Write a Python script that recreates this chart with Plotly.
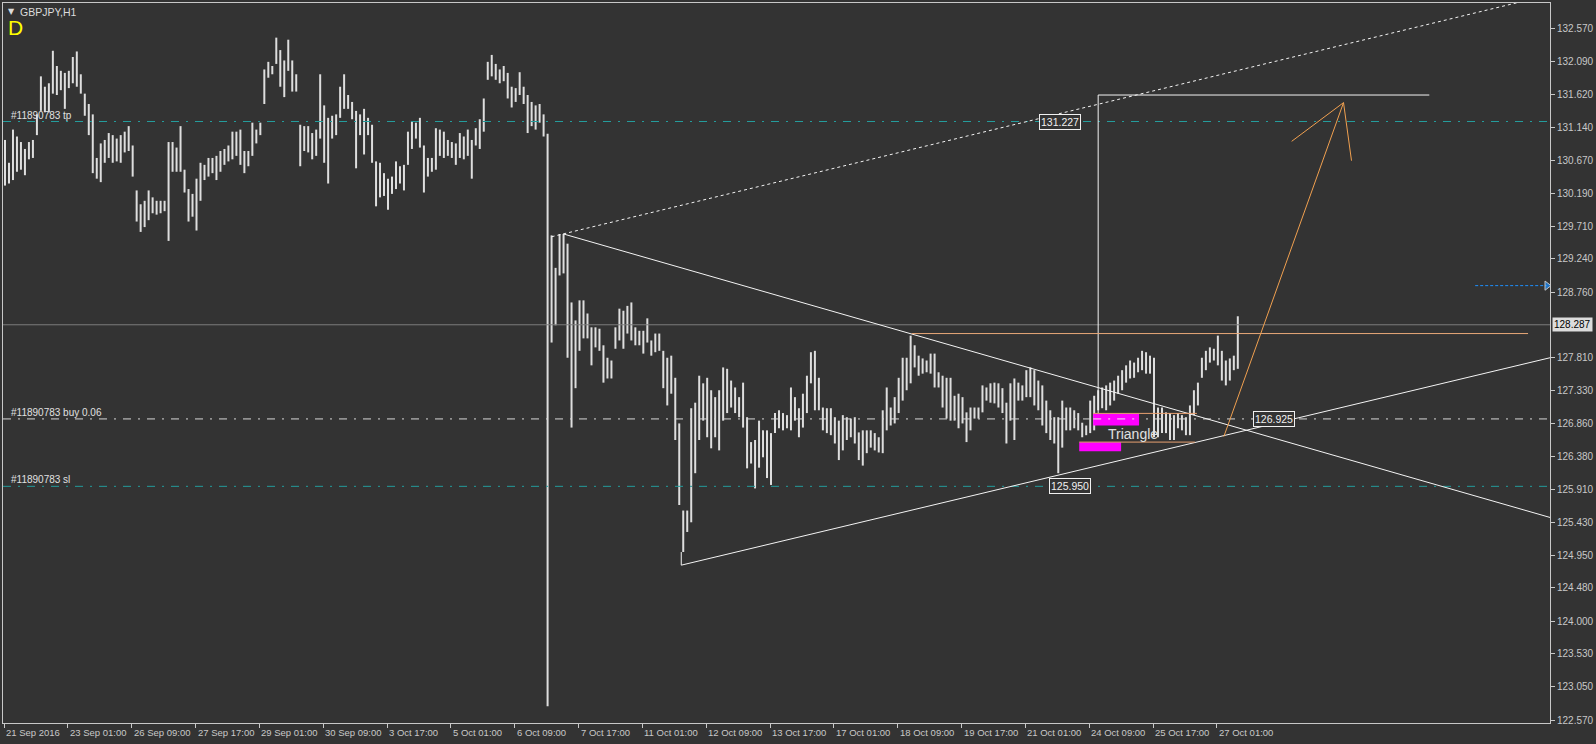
import plotly.graph_objects as go

BG = "#333333"
FG = "#c8c8c8"
FONT = "Liberation Sans"

# ---- bar data (2-hour groups of the H1 chart: high / low) ----
highs = [
    130.96, 130.63, 131.11, 131.01, 130.93, 130.83, 130.93, 130.96, 131.33, 131.88,
    131.73, 131.78, 132.25, 132.03, 131.96, 131.93, 131.96, 132.16, 132.24, 131.91,
    131.63, 131.48, 131.33, 130.70, 130.91, 130.96, 131.06, 131.03, 130.98, 131.03,
    131.08, 131.16, 130.88, 130.23, 130.03, 130.08, 130.23, 130.13, 130.08, 130.08,
    130.08, 130.93, 130.93, 130.85, 131.16, 130.53, 130.25, 130.18, 130.40, 130.63,
    130.60, 130.70, 130.70, 130.73, 130.80, 130.83, 130.88, 131.08, 131.08, 131.11,
    130.80, 130.80, 131.21, 131.11, 131.21, 131.98, 132.09, 132.03, 132.44, 132.26,
    132.11, 132.41, 132.11, 131.91, 131.18, 131.16, 131.16, 131.06, 131.11, 131.91,
    131.46, 131.28, 131.31, 131.33, 131.73, 131.91, 131.61, 131.51, 131.38, 131.33,
    131.41, 131.28, 131.18, 130.65, 130.63, 130.48, 130.40, 130.43, 130.65, 130.58,
    130.60, 131.08, 131.23, 131.21, 131.28, 130.88, 130.70, 130.70, 131.13, 131.11,
    131.08, 130.96, 130.93, 130.91, 131.06, 131.01, 131.11, 130.96, 131.13, 131.26,
    131.56, 132.09, 132.19, 132.06, 131.98, 132.03, 131.93, 131.73, 131.71, 131.94,
    131.73, 131.61, 131.51, 131.46, 131.48, 131.33,
    131.05,
    129.58, 129.11, 129.60, 129.60, 129.46, 128.61, 128.35, 128.64, 128.64, 128.45,
    128.25, 128.25, 128.23, 127.99, 127.81, 127.77, 128.25, 128.52, 128.49, 128.56,
    128.61, 128.25, 128.20, 128.20, 128.38, 128.06, 128.16, 128.16, 127.91, 127.81,
    127.84, 127.52, 126.86, 125.60, 125.60, 127.08, 127.16, 127.55, 127.44, 127.52,
    127.34, 127.24, 127.34, 127.67, 127.65, 127.48, 127.38, 127.24, 127.45, 126.95,
    126.59, 126.62, 126.90, 126.76, 126.76, 126.72, 127.01, 127.05, 127.01, 126.98,
    127.38, 127.24, 127.08, 127.29, 127.55, 127.89, 127.91, 127.52, 127.09, 127.08,
    127.08, 126.95, 126.90, 126.98, 126.95, 126.93, 126.95, 126.73, 126.76, 126.76,
    126.76, 126.72, 126.66, 127.05, 127.38, 127.09, 127.24, 127.52, 127.81, 127.81,
    128.13, 127.99, 127.84, 127.80, 127.77, 127.87, 127.87, 127.60, 127.55, 127.52,
    127.52, 127.26, 127.29, 127.24, 127.02, 127.09, 127.09, 127.09, 127.41, 127.38,
    127.44, 127.45, 127.44, 127.37, 127.16, 127.44,
    127.51, 127.45, 127.41, 127.63, 127.67, 127.63, 127.48, 127.41, 127.19, 127.05,
    126.95, 126.95, 127.19, 127.09, 127.09, 127.05, 127.01, 126.87, 126.83, 127.19,
    127.26, 127.34, 127.38, 127.41, 127.45, 127.48, 127.55, 127.63, 127.70, 127.77,
    127.74, 127.81, 127.91, 127.89, 127.84, 127.81, 127.09, 127.09, 127.02, 127.01,
    126.98, 127.01, 126.98, 126.95, 127.12, 127.34, 127.45, 127.81, 127.91, 127.96,
    127.94, 128.13, 127.91, 127.77, 127.80, 127.84, 128.41,
]
lows = [
    130.30, 130.33, 130.38, 130.50, 130.53, 130.45, 130.68, 130.70, 131.03, 131.38,
    131.36, 131.36, 131.63, 131.61, 131.68, 131.41, 131.71, 131.78, 131.73, 131.63,
    131.31, 131.03, 130.48, 130.40, 130.35, 130.63, 130.70, 130.63, 130.65, 130.63,
    130.78, 130.80, 130.43, 129.78, 129.63, 129.70, 129.80, 129.90, 129.88, 129.90,
    129.93, 129.50, 130.50, 130.50, 130.50, 130.20, 129.78, 129.85, 129.65, 130.08,
    130.38, 130.43, 130.48, 130.38, 130.50, 130.60, 130.65, 130.68, 130.73, 130.60,
    130.48, 130.58, 130.73, 130.91, 131.03, 131.48, 131.86, 131.91, 132.06, 131.73,
    131.58, 131.96, 131.66, 131.66, 130.58, 130.80, 130.78, 130.68, 130.73, 130.98,
    130.63, 130.33, 130.98, 131.03, 131.28, 131.41, 131.41, 131.26, 130.55, 131.03,
    130.75, 131.03, 130.63, 130.00, 130.13, 130.15, 129.95, 130.18, 130.25, 130.33,
    130.23, 130.60, 130.83, 130.98, 130.85, 130.20, 130.43, 130.50, 130.53, 130.73,
    130.70, 130.73, 130.70, 130.60, 130.70, 130.68, 130.73, 130.40, 130.88, 130.83,
    131.08, 131.83, 131.88, 131.83, 131.78, 131.81, 131.56, 131.43, 131.51, 131.61,
    131.48, 131.06, 131.16, 131.11, 131.21, 131.01,
    122.77,
    128.03, 128.28, 129.00, 129.03, 127.81, 126.80, 127.37, 127.91, 128.09, 128.09,
    127.70, 127.96, 127.91, 127.45, 127.51, 127.51, 127.94, 128.06, 127.94, 128.16,
    128.06, 127.99, 127.99, 127.87, 128.03, 127.84, 127.89, 127.91, 127.37, 127.12,
    127.29, 126.62, 125.68, 125.00, 125.29, 125.43, 126.14, 126.62, 126.90, 126.66,
    126.50, 126.66, 126.47, 126.90, 127.01, 127.09, 127.01, 126.95, 126.80, 126.21,
    126.28, 125.92, 126.22, 126.37, 126.07, 125.97, 126.72, 126.79, 126.76, 126.79,
    126.76, 126.90, 126.66, 126.80, 127.01, 127.44, 127.05, 127.05, 126.76, 126.72,
    126.69, 126.57, 126.33, 126.47, 126.62, 126.66, 126.57, 126.33, 126.25, 126.43,
    126.51, 126.47, 126.44, 126.43, 126.76, 126.83, 126.86, 127.01, 127.19, 127.34,
    127.44, 127.67, 127.55, 127.58, 127.60, 127.58, 127.38, 127.38, 127.09, 126.93,
    126.90, 126.90, 126.79, 126.86, 126.59, 126.76, 126.93, 126.93, 127.02, 127.19,
    127.16, 127.15, 127.09, 127.01, 126.57, 126.90,
    126.62, 127.19, 127.19, 127.24, 127.24, 127.12, 127.05, 126.83, 126.72, 126.62,
    126.57, 126.14, 126.51, 126.76, 126.76, 126.79, 126.76, 126.66, 126.69, 126.72,
    126.76, 127.05, 127.08, 127.05, 127.12, 127.19, 127.29, 127.34, 127.45, 127.51,
    127.52, 127.60, 127.63, 127.58, 127.58, 126.66, 126.66, 126.72, 126.72, 126.62,
    126.62, 126.79, 126.76, 126.69, 126.69, 126.98, 127.12, 127.52, 127.63, 127.74,
    127.77, 127.70, 127.48, 127.41, 127.48, 127.63, 127.65,
]

# time axis (bar index of the H1 chart)
time_ticks = list(range(0, 609, 32))
time_labels = ["21 Sep 2016", "23 Sep 01:00", "26 Sep 09:00", "27 Sep 17:00", "29 Sep 01:00",
               "30 Sep 09:00", "3 Oct 17:00", "5 Oct 01:00", "6 Oct 09:00", "7 Oct 17:00",
               "11 Oct 01:00", "12 Oct 09:00", "13 Oct 17:00", "17 Oct 01:00", "18 Oct 09:00",
               "19 Oct 17:00", "21 Oct 01:00", "24 Oct 09:00", "25 Oct 17:00", "27 Oct 01:00"]
price_ticks = [132.570, 132.090, 131.620, 131.140, 130.670, 130.190, 129.710, 129.240,
               128.760, 127.810, 127.330, 126.860, 126.380, 125.910, 125.430, 124.950,
               124.480, 124.000, 123.530, 123.050, 122.570]

bid_price = 128.287
tp_price = 131.227
buy_price = 126.925
sl_price = 125.950

# drawn objects: (bar index, price) anchors
dotted_ray = ([274.5, 775.0], [129.56, 133.06])
upper_line = ([280.5, 775.0], [129.60, 125.50])
lower_line = ([339.5, 339.5, 775.0], [125.00, 124.81, 127.81])
target_box = ([548.5, 548.5, 714.5], [127.01, 131.61, 131.61])
level_line = ([455.0, 764.0], [128.16, 128.16])
arrow_path = ([611.5, 671.5, 645.5, None, 671.5, 675.5], [126.67, 131.50, 130.94, None, 131.50, 130.66])
magenta1 = ([546, 569], [126.83, 127.005])
magenta2 = ([539, 560], [126.456, 126.586])
orange_top = ([546, 598], [127.005, 127.005])
orange_bot = ([539, 597], [126.59, 126.59])
blue_arrow = ([737.5, 773.5], [128.853, 128.853])

X_MIN, X_MAX = -0.5, 775.0
Y_MIN, Y_MAX = 122.527, 132.941

fig = go.Figure()

# price bars
bx, by = [], []
for k, (h, l) in enumerate(zip(highs, lows)):
    xi = 2 * k + 0.5
    bx += [xi, xi, None]
    by += [l, h, None]
fig.add_trace(go.Scatter(x=bx, y=by, mode="lines", line=dict(color="#dedede", width=2),
                         hoverinfo="skip", showlegend=False))

DASHDOT = "8px,7px,2px,7px"
TEAL = "#249c9c"

def hline(price, color, dash, width=1):
    fig.add_trace(go.Scatter(x=[X_MIN, X_MAX], y=[price, price], mode="lines",
                             line=dict(color=color, width=width, dash=dash),
                             hoverinfo="skip", showlegend=False))

hline(bid_price, "#7c7c7c", "solid")
hline(tp_price, TEAL, DASHDOT)
hline(sl_price, TEAL, DASHDOT)
hline(buy_price, "#d8d8d8", DASHDOT)

def poly(xy, color, dash="solid", width=1):
    fig.add_trace(go.Scatter(x=xy[0], y=xy[1], mode="lines",
                             line=dict(color=color, width=width, dash=dash),
                             hoverinfo="skip", showlegend=False))

def rect(xs, ys, color):
    fig.add_trace(go.Scatter(x=[xs[0], xs[1], xs[1], xs[0], xs[0]],
                             y=[ys[0], ys[0], ys[1], ys[1], ys[0]],
                             mode="lines", fill="toself", fillcolor=color,
                             line=dict(color=color, width=0), hoverinfo="skip", showlegend=False))

poly(dotted_ray, "#f4f4f4", "3px,3px")
poly(upper_line, "#f4f4f4")
poly(lower_line, "#f4f4f4")
poly(target_box, "#f4f4f4")
poly(level_line, "#e8a878")
rect(*magenta1, "#ff00ff")
rect(*magenta2, "#ff00ff")
fig.add_trace(go.Scatter(x=[magenta1[0][0], magenta1[0][1]], y=[buy_price, buy_price], mode="lines",
                         line=dict(color="#f0f0f0", width=1, dash=DASHDOT),
                         hoverinfo="skip", showlegend=False))
poly(orange_top, "#e8a070")
poly(orange_bot, "#e8a070")
poly(arrow_path, "#f0a050")
fig.add_trace(go.Scatter(x=blue_arrow[0], y=blue_arrow[1], mode="lines+markers",
                         line=dict(color="#1e90ff", width=1, dash="3px,2px"),
                         marker=dict(symbol=["circle", "triangle-right"], size=[0, 8], color="#1e90ff"),
                         hoverinfo="skip", showlegend=False))

ann = []
PW = 1551.0
PH = 721.0
def px_x(px):
    return (px - 2) / PW
def px_y(py):
    return (723 - py) / PH

for t, lab in zip(time_ticks, time_labels):
    ann.append(dict(x=t, y=px_y(733), xref="x", yref="paper", text=lab, showarrow=False,
                    xanchor="left", yanchor="middle", xshift=0,
                    font=dict(family=FONT, size=9.5, color=FG)))

for price, lab in [(tp_price, "#11890783 tp"), (buy_price, "#11890783 buy 0.06"), (sl_price, "#11890783 sl")]:
    ann.append(dict(x=px_x(8), y=price, xref="paper", yref="y", text=lab, showarrow=False,
                    xanchor="left", yanchor="bottom", yshift=-1,
                    font=dict(family=FONT, size=10, color="#e0e0e0")))

for xi, price in [(529.5, tp_price), (534.5, sl_price), (636.5, buy_price)]:
    ann.append(dict(x=xi, y=price, xref="x", yref="y", text=f"{price:.3f}", showarrow=False,
                    xanchor="center", yanchor="middle", bgcolor=BG, bordercolor="#f0f0f0",
                    borderwidth=1, borderpad=1,
                    font=dict(family=FONT, size=10.5, color="#f0f0f0")))

ann.append(dict(x=566, y=126.70, xref="x", yref="y", text="Triangle", showarrow=False,
                xanchor="center", yanchor="middle",
                font=dict(family=FONT, size=14, color="#e0e0e0")))

ann.append(dict(x=1.0, y=bid_price, xref="paper", yref="y", text=f"{bid_price:.3f}", showarrow=False,
                xanchor="left", yanchor="middle", xshift=2, bgcolor="#dcdcdc", borderpad=1,
                font=dict(family=FONT, size=10, color="#000000")))

ann.append(dict(x=px_x(5), y=px_y(4), xref="paper", yref="paper", text="▼", showarrow=False,
                xanchor="left", yanchor="top", font=dict(family="DejaVu Sans", size=8, color="#dcdcdc")))
ann.append(dict(x=px_x(17), y=px_y(3), xref="paper", yref="paper", text="GBPJPY,H1", showarrow=False,
                xanchor="left", yanchor="top", font=dict(family=FONT, size=10.5, color="#dcdcdc")))
ann.append(dict(x=px_x(5), y=px_y(13), xref="paper", yref="paper", text="D", showarrow=False,
                xanchor="left", yanchor="top", font=dict(family=FONT, size=21, color="#ffff00")))

fig.update_layout(
    width=1596, height=744,
    margin=dict(l=2, r=43, t=2, b=21),
    paper_bgcolor=BG, plot_bgcolor=BG,
    showlegend=False, hovermode=False,
    annotations=ann,
    xaxis=dict(range=[X_MIN, X_MAX], showgrid=False, zeroline=False,
               showline=True, mirror=True, linecolor=FG, linewidth=1,
               tickmode="array", tickvals=time_ticks, ticks="outside", ticklen=4,
               tickcolor=FG, showticklabels=False),
    yaxis=dict(range=[Y_MIN, Y_MAX], side="right", showgrid=False, zeroline=False,
               showline=True, mirror=True, linecolor=FG, linewidth=1,
               tickmode="array", tickvals=price_ticks, ticktext=[f"{p:.3f}" for p in price_ticks],
               ticks="outside", ticklen=4, tickcolor=FG,
               tickfont=dict(family=FONT, size=10, color=FG)),
)

fig.write_html("out.html", config={"displayModeBar": False, "staticPlot": True},
               post_script="document.body.style.margin='0';document.body.style.background='#333333';"
                           "document.body.style.overflow='hidden';")
